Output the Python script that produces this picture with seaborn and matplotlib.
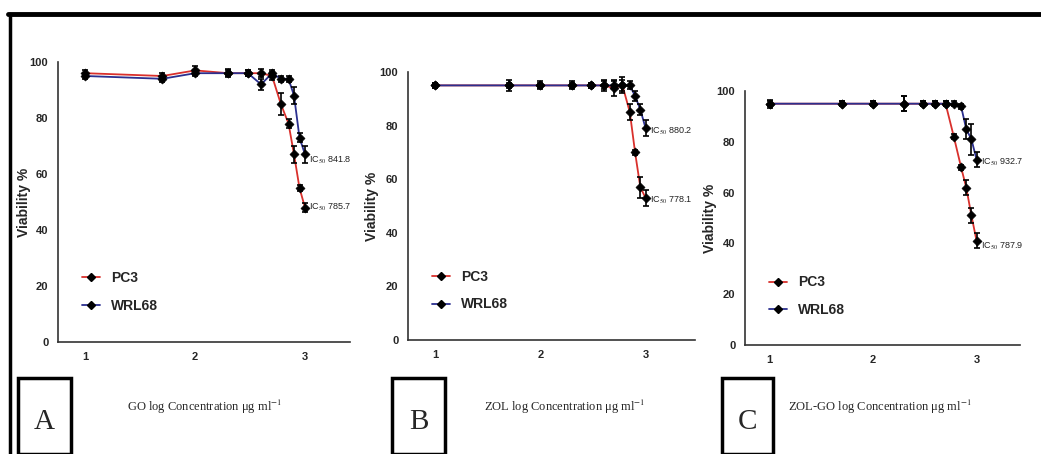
import numpy as np
import pandas as pd
import matplotlib
matplotlib.use('Agg')
import matplotlib.pyplot as plt
import seaborn as sns
from matplotlib.lines import Line2D
from matplotlib.patches import Rectangle

sns.set_style('white')
plt.rcParams['font.family'] = ['Liberation Sans', 'DejaVu Sans']
plt.rcParams['mathtext.fontset'] = 'stix'

# log concentration (x) for each panel
log_conc = [1.0, 1.7, 2.0, 2.3, 2.48, 2.6, 2.7, 2.78, 2.85, 2.9, 2.95, 3.0]

# Panel A - GO
go_pc3 = [96, 95, 97, 96, 96, 96, 95, 85, 78, 67, 55, 48]
go_pc3_err = [1, 1, 1.5, 1.5, 1, 1.5, 1.5, 4, 1.5, 3, 1, 1.5]
go_wrl = [95, 94, 96, 96, 96, 92, 96, 94, 94, 88, 73, 67]
go_wrl_err = [1, 1, 1, 1, 1, 2, 1, 1, 1, 3, 1.5, 3]

# Panel B - ZOL
zol_pc3 = [95, 95, 95, 95, 95, 95, 94, 95, 85, 70, 57, 53]
zol_pc3_err = [1, 2, 1.5, 1.5, 1, 2, 3, 2, 3, 1, 4, 3]
zol_wrl = [95, 95, 95, 95, 95, 95, 95, 95, 95, 91, 86, 79]
zol_wrl_err = [1, 1, 1, 1, 1, 1.5, 1.5, 3, 1.5, 2, 2, 3]

# Panel C - ZOL-GO
zg_pc3 = [95, 95, 95, 95, 95, 95, 95, 82, 70, 62, 51, 41]
zg_pc3_err = [1.5, 1, 1, 3, 1, 1, 1, 1, 1, 3, 3, 3]
zg_wrl = [95, 95, 95, 95, 95, 95, 95, 95, 94, 85, 81, 73]
zg_wrl_err = [1, 1, 1, 3, 1, 1, 1, 1, 1, 4, 6, 3]

panels = [
    ('GO', go_pc3, go_pc3_err, go_wrl, go_wrl_err, ['841.8', '785.7'], [65, 48]),
    ('ZOL', zol_pc3, zol_pc3_err, zol_wrl, zol_wrl_err, ['880.2', '778.1'], [78, 52]),
    ('ZOL-GO', zg_pc3, zg_pc3_err, zg_wrl, zg_wrl_err, ['932.7', '787.9'], [72, 39]),
]
letters = ['A', 'B', 'C']

red = '#d9302c'
blue = '#2b2f8f'

fig = plt.figure(figsize=(10.41, 4.54), dpi=100)
W, H = 1041, 454

# axes boxes in pixels: left, right, bottom(y0), top(y100)
boxes = [(58, 350, 342, 62), (408, 695, 340, 72), (745, 1020, 345, 91)]
xlims = [(0.75, 3.41), (0.74, 3.47), (0.76, 3.42)]
ylab_x = [31, 379, 717]

for i, (name, pc3, pc3_err, wrl, wrl_err, ic50, ic_y) in enumerate(panels):
    l, r, b, t = boxes[i]
    ax = fig.add_axes([l / W, 1 - b / H, (r - l) / W, (b - t) / H])
    df = pd.DataFrame({'x': log_conc * 2,
                       'y': pc3 + wrl,
                       'line': ['PC3'] * len(pc3) + ['WRL68'] * len(wrl)})
    sns.lineplot(data=df, x='x', y='y', hue='line', palette={'PC3': red, 'WRL68': blue},
                 estimator=None, lw=1.3, ax=ax, legend=False, zorder=2)
    ax.errorbar(log_conc, wrl, yerr=wrl_err, fmt='none', ecolor='black', elinewidth=1.2,
                capsize=2.5, capthick=1.2, zorder=3, clip_on=False)
    ax.errorbar(log_conc, pc3, yerr=pc3_err, fmt='none', ecolor='black', elinewidth=1.2,
                capsize=2.5, capthick=1.2, zorder=3, clip_on=False)
    sns.scatterplot(data=df, x='x', y='y', marker='D', color='black', s=22,
                    edgecolor='black', ax=ax, zorder=4, clip_on=False, legend=False)

    ax.set_xlim(*xlims[i])
    ax.set_ylim(0, 100)
    ax.set_xticks([1, 2, 3])
    ax.set_yticks([0, 20, 40, 60, 80, 100])
    ax.set_xlabel('')
    ax.set_ylabel('Viability %', fontsize=10, fontweight='bold')
    ax.yaxis.set_label_coords((ylab_x[i] - l) / (r - l), 0.5)
    sns.despine(ax=ax)
    for s in ['left', 'bottom']:
        ax.spines[s].set_color('#333333')
        ax.spines[s].set_linewidth(1.2)
    ax.tick_params(axis='both', direction='out', length=3, width=1, color='#333333',
                   labelsize=8, pad=4)
    for lab in ax.get_xticklabels() + ax.get_yticklabels():
        lab.set_fontweight('bold')

    for txt, yy in zip(ic50, ic_y):
        ax.text(3.04, yy, r'IC$_{50}$ ' + txt, fontsize=6.5, va='center', color='#222222')

    handles = [Line2D([], [], color=red, marker='D', mfc='black', mec='black', ms=4, lw=1.3),
               Line2D([], [], color=blue, marker='D', mfc='black', mec='black', ms=4, lw=1.3)]
    ax.legend(handles, ['PC3', 'WRL68'], loc='lower left', bbox_to_anchor=(0.04, 0.06),
              frameon=False, handlelength=1.3, labelspacing=1.0,
              prop={'weight': 'bold', 'size': 10})

    # x label as free serif text below the axes
    cx = [205, 565, 880][i]
    fig.text(cx / W, 1 - 407 / H, name + r' log Concentration μg ml$^{-1}$',
             ha='center', va='center', fontsize=9, family=['Liberation Serif', 'DejaVu Serif'])

    # letter boxes
    bx0, bx1 = [(18, 71), (392, 445), (722, 773)][i]
    fig.add_artist(Rectangle((bx0 / W, 0), (bx1 - bx0) / W, (454 - 378) / H,
                             transform=fig.transFigure, fill=False, ec='black', lw=2.5))
    fig.text((bx0 + bx1) / 2 / W, 1 - 422 / H, letters[i], ha='center', va='center',
             fontsize=21, family=['Liberation Serif', 'DejaVu Serif'])

# frame lines of the composite figure
fig.add_artist(Line2D([8 / W, 1], [1 - 14 / H, 1 - 14 / H], transform=fig.transFigure,
                      color='black', lw=3.5))
fig.add_artist(Line2D([10 / W, 10 / W], [0, 1 - 14 / H], transform=fig.transFigure,
                      color='black', lw=2.5))

plt.savefig('out.png', dpi=100)
plt.close()
